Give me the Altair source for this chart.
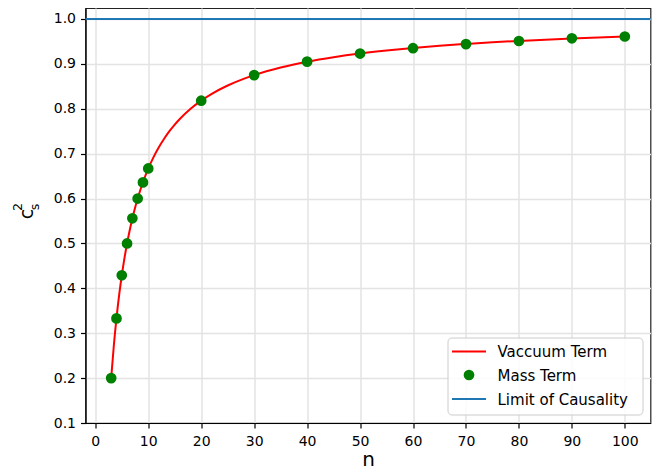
import altair as alt
import pandas as pd

# Vacuum term curve
vac_n = [3, 3.5, 4, 4.5, 5, 5.5, 6, 6.5, 7, 7.5, 8, 9, 10, 11, 12, 13, 14, 15, 16, 18, 20,
         22, 25, 28, 30, 35, 40, 45, 50, 55, 60, 65, 70, 75, 80, 85, 90, 95, 100]
vac_cs2 = [0.2, 0.2727, 0.3333, 0.3846, 0.4286, 0.4667, 0.5, 0.5294, 0.5556, 0.5789, 0.6,
           0.6364, 0.6667, 0.6923, 0.7143, 0.7333, 0.75, 0.7647, 0.7778, 0.8, 0.8182,
           0.8333, 0.8519, 0.8667, 0.875, 0.8919, 0.9048, 0.9149, 0.9231, 0.9298, 0.9355,
           0.9403, 0.9444, 0.9481, 0.9512, 0.954, 0.9565, 0.9588, 0.9608]

# Mass term points
mass_n = [3, 4, 5, 6, 7, 8, 9, 10, 20, 30, 40, 50, 60, 70, 80, 90, 100]
mass_cs2 = [0.2, 0.333, 0.429, 0.5, 0.556, 0.6, 0.636, 0.667, 0.818, 0.875, 0.905,
            0.923, 0.935, 0.944, 0.951, 0.957, 0.961]

causality_limit = [1.0]

x_ticks = [0, 10, 20, 30, 40, 50, 60, 70, 80, 90, 100]
y_ticks = [0.1, 0.2, 0.3, 0.4, 0.5, 0.6, 0.7, 0.8, 0.9, 1.0]

legend_labels = ["Vaccuum Term", "Mass Term", "Limit of Causality"]

RED = "#ff0000"
GREEN = "#008000"
BLUE = "#1f77b4"
FONT = "DejaVu Sans"

W, H = 565, 415

vac_df = pd.DataFrame({"n": vac_n, "cs2": vac_cs2})
mass_df = pd.DataFrame({"n": mass_n, "cs2": mass_cs2})
lim_df = pd.DataFrame({"cs2": causality_limit})

xscale = alt.Scale(domain=[-1.85, 104.85], nice=False, zero=False)
yscale = alt.Scale(domain=[0.1, 1.0245], nice=False, zero=False)

xaxis = alt.Axis(values=x_ticks, format="d", title="n", grid=True, labelPadding=6)
yaxis = alt.Axis(values=y_ticks, format=".1f", title=None, grid=True, labelPadding=5)

line = alt.Chart(vac_df).mark_line(color=RED, strokeWidth=2, interpolate="monotone").encode(
    x=alt.X("n:Q", scale=xscale, axis=xaxis),
    y=alt.Y("cs2:Q", scale=yscale, axis=yaxis),
)

pts = alt.Chart(mass_df).mark_circle(color=GREEN, size=115, opacity=1).encode(
    x=alt.X("n:Q", scale=xscale),
    y=alt.Y("cs2:Q", scale=yscale),
)

rule = alt.Chart(lim_df).mark_rule(color=BLUE, strokeWidth=2).encode(
    y=alt.Y("cs2:Q", scale=yscale),
)

# Legend (layout in pixels)
lx, ly = 362.5, 330
legend_box = alt.Chart(lim_df).mark_rect(
    fill="white", fillOpacity=0.85, stroke="#cccccc", strokeWidth=1, cornerRadius=4
).encode(x=alt.value(lx), x2=alt.value(lx + 195), y=alt.value(ly), y2=alt.value(ly + 77))

row_y = [ly + 13.5, ly + 37, ly + 61]
leg_line1 = alt.Chart(lim_df).mark_rule(color=RED, strokeWidth=2).encode(
    x=alt.value(lx + 4), x2=alt.value(lx + 38), y=alt.value(row_y[0]))
leg_pt = alt.Chart(lim_df).mark_circle(color=GREEN, size=115, opacity=1).encode(
    x=alt.value(lx + 21), y=alt.value(row_y[1]))
leg_line3 = alt.Chart(lim_df).mark_rule(color=BLUE, strokeWidth=2).encode(
    x=alt.value(lx + 4), x2=alt.value(lx + 38), y=alt.value(row_y[2]))

leg_texts = []
for i, lab in enumerate(legend_labels):
    leg_texts.append(
        alt.Chart(lim_df).mark_text(
            text=lab, align="left", baseline="middle", font=FONT, fontSize=15, color="#000000"
        ).encode(x=alt.value(lx + 49.5), y=alt.value(row_y[i] + 0.5))
    )

# y-axis title: c_s^2 (rotated)
c_txt = alt.Chart(lim_df).mark_text(
    text="c", angle=270, align="center", baseline="middle", font=FONT, fontSize=19, color="#000000"
).encode(x=alt.value(-59), y=alt.value(206))
s_txt = alt.Chart(lim_df).mark_text(
    text="s", angle=270, align="center", baseline="middle", font=FONT, fontSize=12.5, color="#000000"
).encode(x=alt.value(-51), y=alt.value(199))
two_txt = alt.Chart(lim_df).mark_text(
    text="2", angle=270, align="center", baseline="middle", font=FONT, fontSize=12.5, color="#000000"
).encode(x=alt.value(-68), y=alt.value(199))

chart = alt.layer(
    line, pts, rule, legend_box, leg_line1, leg_pt, leg_line3, *leg_texts, c_txt, s_txt, two_txt
).properties(
    width=W, height=H,
    autosize=alt.AutoSizeParams(type="none"),
    padding={"left": 77.5, "top": 0, "right": 13, "bottom": 52},
    background="white",
).configure_view(
    stroke="#222222", strokeWidth=1.2
).configure_axis(
    labelFont=FONT, labelFontSize=14, labelColor="#000000",
    titleFont=FONT, titleFontSize=20, titleFontWeight="normal", titleColor="#000000",
    domainColor="#000000", domainWidth=1.2,
    tickColor="#000000", tickSize=5, tickWidth=1.2,
    gridColor="#e3e3e3", gridWidth=1.5,
).configure_axisX(titlePadding=1)

chart.save("out.html", embed_options={"renderer": "svg", "actions": False})
